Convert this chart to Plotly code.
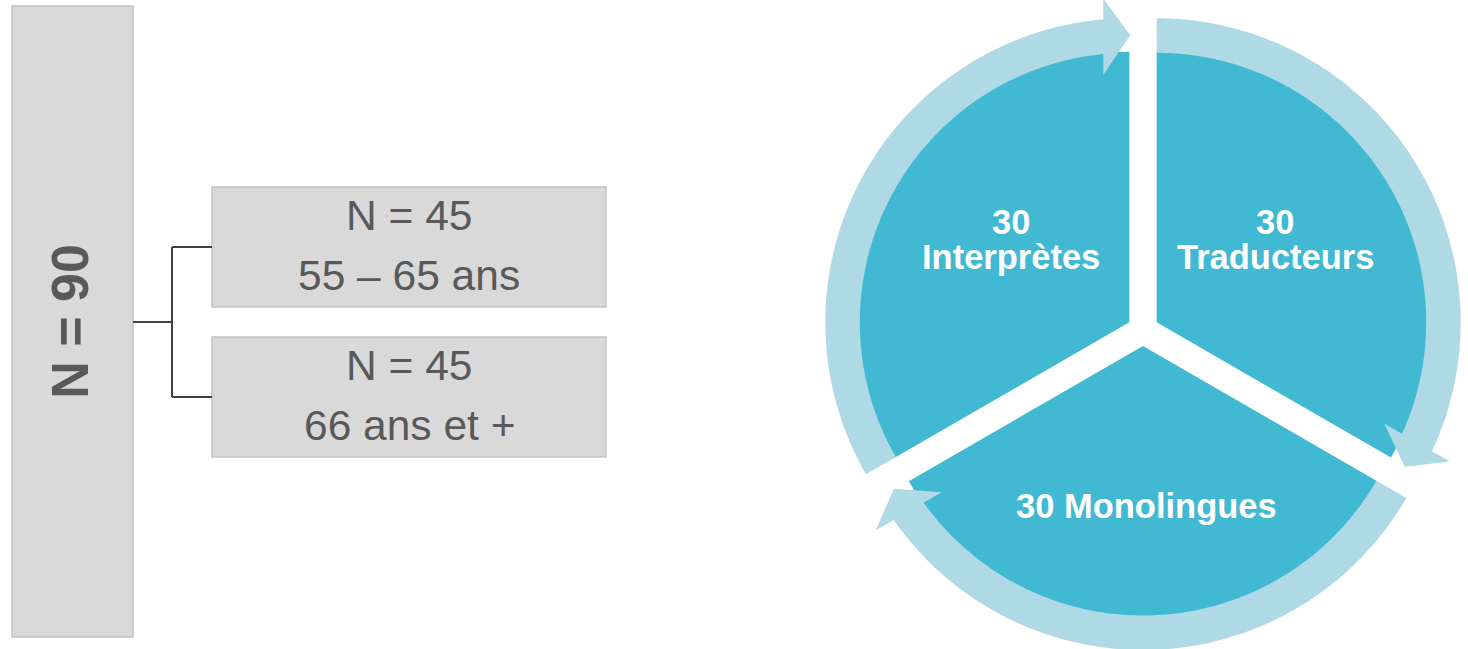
import numpy as np
import plotly.graph_objects as go

W, H = 1468, 649

# ---------------- data ----------------
total_label = "N = 90"
group_counts = ["N = 45", "N = 45"]
group_ages = ["55 – 65 ans", "66 ans et +"]
profile_labels = ["Interprètes", "Traducteurs", "Monolingues"]
profile_values = [30, 30, 30]

# ---------------- styles / geometry ----------------
BOX_FILL = "#D9D9D9"
BOX_LINE = "#C3C3C3"
TXT = "#595959"
CONN = "#404040"
PIE_C = "#41B9D2"
RING_C = "#AED9E5"
FONT = "Liberation Sans, Arial, sans-serif"

big_box = dict(x0=12, x1=133, y0=6, y1=637)
small_boxes = [dict(x0=212, x1=606, y0=187, y1=307),
               dict(x0=212, x1=606, y0=337, y1=457)]

CX, CY = 1143.0, 330.2        # pie centre (px)
PIE_R = 270.5                 # slice radius
PULL_PX = 15.8                # explode distance
ROTATION = 240                # first slice starts here (deg clockwise from top)
RING_IN, RING_OUT = 269.5, 304.0
HEAD_IN, HEAD_OUT, TIP_R = 249.0, 324.6, 287.0
HEAD_IN_DA, HEAD_OUT_DA, TIP_DA = -6.0, -4.6, 0.2

shapes = []
annotations = []

# left boxes
shapes.append(dict(type="rect", xref="x", yref="y", **big_box,
                   fillcolor=BOX_FILL, line=dict(color=BOX_LINE, width=1.5), layer="below"))
for b in small_boxes:
    shapes.append(dict(type="rect", xref="x", yref="y", **b,
                       fillcolor=BOX_FILL, line=dict(color=BOX_LINE, width=1.5), layer="below"))

# connectors
mid_y = (big_box["y0"] + big_box["y1"]) / 2 + 0.5
stem_x = 172
ys = [(b["y0"] + b["y1"]) / 2 for b in small_boxes]
conn_path = (f"M {big_box['x1']},{mid_y} L {stem_x},{mid_y} "
             f"M {stem_x},{ys[0]} L {stem_x},{ys[1]} "
             f"M {stem_x},{ys[0]} L {small_boxes[0]['x0']},{ys[0]} "
             f"M {stem_x},{ys[1]} L {small_boxes[1]['x0']},{ys[1]}")
shapes.append(dict(type="path", xref="x", yref="y", path=conn_path,
                   line=dict(color=CONN, width=2), layer="below"))

# texts on left
annotations.append(dict(x=70, y=321.7, xref="x", yref="y", text=total_label,
                        textangle=-90, showarrow=False, xanchor="center", yanchor="middle",
                        font=dict(family=FONT, size=52, color=TXT, weight="bold")))
for b, c, a in zip(small_boxes, group_counts, group_ages):
    xc = (b["x0"] + b["x1"]) / 2
    annotations.append(dict(x=xc, y=b["y0"] + 28.5, xref="x", yref="y", text=c, showarrow=False,
                            xanchor="center", yanchor="middle",
                            font=dict(family=FONT, size=42.5, color=TXT)))
    annotations.append(dict(x=xc, y=b["y0"] + 88.5, xref="x", yref="y", text=a, showarrow=False,
                            xanchor="center", yanchor="middle",
                            font=dict(family=FONT, size=42.5, color=TXT)))

# ---------------- ring arrows (one per slice, concentric with its pulled slice) ----------------
tot = float(sum(profile_values))
edges = ROTATION + 360.0 * np.concatenate([[0], np.cumsum(profile_values)]) / tot


def polar(cx, cy, r, deg):
    t = np.deg2rad(deg)
    return np.array([cx + r * np.sin(t), cy - r * np.cos(t)])


for i in range(len(profile_values)):
    a0, a1 = edges[i], edges[i + 1]
    mid = (a0 + a1) / 2
    ccx, ccy = polar(CX, CY, PULL_PX, mid)  # apex of the pulled slice
    b_in = polar(ccx, ccy, HEAD_IN, a1 + HEAD_IN_DA)
    b_out = polar(ccx, ccy, HEAD_OUT, a1 + HEAD_OUT_DA)
    tip = polar(ccx, ccy, TIP_R, a1 + TIP_DA)

    def on_base(r):
        t = (r - HEAD_IN) / (HEAD_OUT - HEAD_IN)
        return b_in + t * (b_out - b_in)

    p_out, p_in = on_base(RING_OUT), on_base(RING_IN)

    def ang(p):
        d = np.rad2deg(np.arctan2(p[0] - ccx, -(p[1] - ccy)))
        while d < a0:
            d += 360
        return d

    e_out, e_in = ang(p_out), ang(p_in)
    pts = [polar(ccx, ccy, RING_OUT, a) for a in np.linspace(a0, e_out, 140)]
    pts += [p_out, b_out, tip, b_in, p_in]
    pts += [polar(ccx, ccy, RING_IN, a) for a in np.linspace(e_in, a0, 140)]
    path = "M " + " L ".join(f"{p[0]:.2f},{p[1]:.2f}" for p in pts) + " Z"
    shapes.append(dict(type="path", xref="x", yref="y", path=path,
                       fillcolor=RING_C, line=dict(width=0), layer="above"))

# ---------------- pie ----------------
pull = PULL_PX / PIE_R
half = PIE_R * (1 + pull)
dom_x = [(CX - half) / W, (CX + half) / W]
dom_y = [1 - (CY + half) / H, 1 - (CY - half) / H]

fig = go.Figure()
fig.add_trace(go.Scatter(x=[0, W], y=[0, H], mode="markers", marker=dict(opacity=0),
                         hoverinfo="skip", showlegend=False))
fig.add_trace(go.Pie(values=profile_values, labels=profile_labels, sort=False,
                     direction="clockwise", rotation=ROTATION, pull=[pull] * 3,
                     marker=dict(colors=[PIE_C] * 3, line=dict(width=0)),
                     textinfo="none", hoverinfo="skip", showlegend=False,
                     domain=dict(x=dom_x, y=dom_y)))

label_pos = {"Interprètes": (1011, 221.5, 256.5),
             "Traducteurs": (1275, 221.5, 256.5),
             "Monolingues": (1146.5, None, 506)}
for lab, v in zip(profile_labels, profile_values):
    x, y1, y2 = label_pos[lab]
    f = dict(family=FONT, size=34.5, color="white", weight="bold")
    if y1 is None:
        annotations.append(dict(x=x, y=y2, xref="x", yref="y", text=f"{v} {lab}",
                                showarrow=False, xanchor="center", yanchor="middle", font=f))
    else:
        annotations.append(dict(x=x, y=y1, xref="x", yref="y", text=f"{v}",
                                showarrow=False, xanchor="center", yanchor="middle", font=f))
        annotations.append(dict(x=x, y=y2, xref="x", yref="y", text=lab,
                                showarrow=False, xanchor="center", yanchor="middle", font=f))

fig.update_layout(
    width=W, height=H, margin=dict(l=0, r=0, t=0, b=0, pad=0),
    paper_bgcolor="white", plot_bgcolor="white",
    xaxis=dict(range=[0, W], visible=False, fixedrange=True),
    yaxis=dict(range=[H, 0], visible=False, fixedrange=True),
    shapes=shapes, annotations=annotations, showlegend=False,
)
fig.write_html("out.html", config={"displayModeBar": False})

# remove the default browser body margin so the figure sits at (0, 0)
with open("out.html", "r", encoding="utf-8") as fh:
    html = fh.read()
html = html.replace("<head>", "<head><style>html,body{margin:0;padding:0;overflow:hidden;}</style>", 1)
with open("out.html", "w", encoding="utf-8") as fh:
    fh.write(html)
